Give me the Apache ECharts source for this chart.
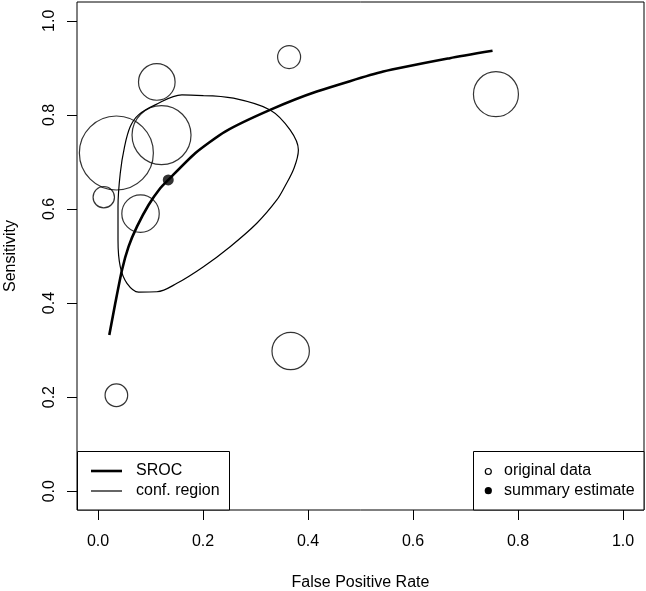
<!DOCTYPE html>
<html>
<head>
<meta charset="utf-8">
<script src="https://cdn.jsdelivr.net/npm/echarts@6/dist/echarts.min.js"></script>
<style>
html,body{margin:0;padding:0;background:#fff;}
#chart{width:646px;height:591px;}
</style>
</head>
<body>
<div id="chart"></div>
<script>
// ---- data ----
const tickValues = [0, 0.2, 0.4, 0.6, 0.8, 1.0];
// original studies: false positive rate, sensitivity, bubble radius (px, ~study weight)
const studyFpr  = [0.112, 0.035, 0.121, 0.011, 0.081, 0.364, 0.758, 0.367, 0.035];
const studySens = [0.870, 0.719, 0.757, 0.625, 0.590, 0.923, 0.844, 0.298, 0.204];
const studyRadius = [18.3, 37, 29.5, 10.7, 18.7, 11.5, 22.5, 18.7, 11.3];
// summary estimate
const summaryFpr = 0.1338;
const summarySens = 0.6617;
// SROC curve points
const srocFpr  = [0.0215, 0.0329, 0.0457, 0.0582, 0.0742, 0.0963, 0.1185, 0.1338, 0.1851, 0.2422, 0.3278, 0.4167, 0.5434, 0.6703, 0.7515];
const srocSens = [0.3319, 0.3994, 0.4702, 0.5198, 0.5624, 0.6085, 0.6440, 0.6617, 0.7185, 0.7645, 0.8106, 0.8496, 0.8921, 0.9206, 0.9362];
// confidence region outline
const confFpr  = [0.2009, 0.2580, 0.3278, 0.3659, 0.3817, 0.3735, 0.3564, 0.3406, 0.3025, 0.2517, 0.2009, 0.1503, 0.1123, 0.0772, 0.0552, 0.0424, 0.0381, 0.0381, 0.0424, 0.0506, 0.0615, 0.0772, 0.1090, 0.1598, 0.2009];
const confSens = [0.8411, 0.8355, 0.8106, 0.7681, 0.7255, 0.6872, 0.6489, 0.6191, 0.5696, 0.5198, 0.4772, 0.4419, 0.4240, 0.4234, 0.4419, 0.4772, 0.5340, 0.6049, 0.6760, 0.7326, 0.7751, 0.8000, 0.8213, 0.8426, 0.8411];

const FONT = '"Liberation Sans", Arial, Helvetica, sans-serif';
const chart = echarts.init(document.getElementById('chart'), null, {renderer: 'canvas'});

const studies = studyFpr.map((x, i) => ({value: [x, studySens[i]], symbolSize: studyRadius[i] * 2}));
const sroc = srocFpr.map((x, i) => [x, srocSens[i]]);
const conf = confFpr.map((x, i) => [x, confSens[i]]);

const axisCommon = {
  type: 'value', min: -0.04, max: 1.04,
  axisLine: {show: false, onZero: false},
  splitLine: {show: false},
  axisTick: {show: true, inside: false, length: 10, customValues: tickValues, lineStyle: {color: '#000', width: 1}},
  axisLabel: {customValues: tickValues, color: '#000', fontSize: 16, fontFamily: FONT, formatter: v => v.toFixed(1)},
  nameLocation: 'middle',
  nameTextStyle: {color: '#000', fontSize: 16, fontFamily: FONT}
};

chart.setOption({
  animation: false,
  backgroundColor: '#fff',
  grid: {left: 77, right: 2, top: 2, bottom: 81, containLabel: false, outerBoundsMode: 'none',
         show: true, borderColor: '#000', borderWidth: 1, backgroundColor: 'transparent'},
  xAxis: Object.assign({}, axisCommon, {
    name: 'False Positive Rate', nameGap: 65,
    axisLabel: Object.assign({}, axisCommon.axisLabel, {margin: 24})
  }),
  yAxis: Object.assign({}, axisCommon, {
    name: 'Sensitivity', nameGap: 58,
    axisLabel: Object.assign({}, axisCommon.axisLabel, {margin: 19, rotate: 90})
  }),
  series: [
    {
      type: 'scatter', name: 'original data', data: studies, symbol: 'circle',
      itemStyle: {color: 'rgba(0,0,0,0)', borderColor: '#000', borderWidth: 1.2},
      z: 2, silent: true
    },
    {
      type: 'line', name: 'conf. region', data: conf, smooth: 0.35, showSymbol: false,
      lineStyle: {color: '#000', width: 1.2}, z: 3, silent: true
    },
    {
      type: 'line', name: 'SROC', data: sroc, smooth: 0.2, showSymbol: false,
      lineStyle: {color: '#000', width: 2.6}, z: 4, silent: true
    },
    {
      type: 'scatter', name: 'summary estimate', data: [[summaryFpr, summarySens]], symbol: 'circle', symbolSize: 11,
      itemStyle: {color: '#000'}, z: 5, silent: true
    }
  ],
  graphic: [
    {type: 'rect', shape: {x: 77.5, y: 451.5, width: 152, height: 58.5}, style: {fill: '#fff', stroke: '#000', lineWidth: 1}, z: 10},
    {type: 'line', shape: {x1: 91, y1: 471, x2: 122, y2: 471}, style: {stroke: '#000', lineWidth: 2.6}, z: 11},
    {type: 'line', shape: {x1: 91, y1: 491, x2: 122, y2: 491}, style: {stroke: '#000', lineWidth: 1.2}, z: 11},
    {type: 'text', x: 136, y: 471, style: {text: 'SROC', font: '16px ' + FONT, fill: '#000', textVerticalAlign: 'middle', verticalAlign: 'middle'}, z: 11},
    {type: 'text', x: 136, y: 491, style: {text: 'conf. region', font: '16px ' + FONT, fill: '#000', textVerticalAlign: 'middle', verticalAlign: 'middle'}, z: 11},
    {type: 'rect', shape: {x: 473.5, y: 451.5, width: 170.5, height: 58.5}, style: {fill: '#fff', stroke: '#000', lineWidth: 1}, z: 10},
    {type: 'circle', shape: {cx: 488.3, cy: 471.5, r: 3}, style: {fill: '#fff', stroke: '#000', lineWidth: 1.2}, z: 11},
    {type: 'circle', shape: {cx: 488.3, cy: 490.7, r: 3.6}, style: {fill: '#000'}, z: 11},
    {type: 'text', x: 504, y: 471, style: {text: 'original data', font: '16px ' + FONT, fill: '#000', textVerticalAlign: 'middle', verticalAlign: 'middle'}, z: 11},
    {type: 'text', x: 504, y: 491, style: {text: 'summary estimate', font: '16px ' + FONT, fill: '#000', textVerticalAlign: 'middle', verticalAlign: 'middle'}, z: 11}
  ]
});
</script>
</body>
</html>
